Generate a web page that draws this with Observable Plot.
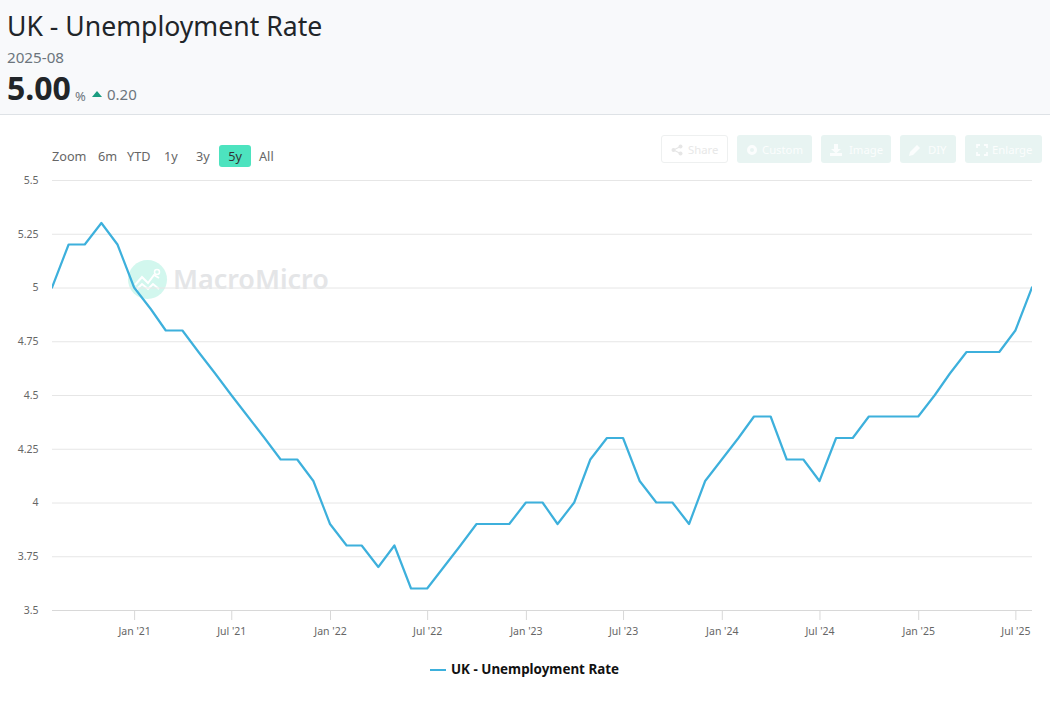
<!DOCTYPE html>
<html>
<head>
<meta charset="utf-8">
<script src="https://cdn.jsdelivr.net/npm/d3@7"></script>
<script src="https://cdn.jsdelivr.net/npm/@observablehq/plot@0.6"></script>
<style>
  html, body { margin: 0; padding: 0; background: #fff; }
  body { width: 1050px; height: 727px; position: relative; overflow: hidden; font-family: "Noto Sans", sans-serif; }
  .abs { position: absolute; white-space: nowrap; }
  #head { left: 0; top: 0; width: 1050px; height: 114px; background: #f8f9fb; border-bottom: 1px solid #dee2e6; }
  #title { left: 7px; top: 8px; font-size: 26.6px; line-height: 36px; color: #212529; }
  #date { left: 7px; top: 47px; font-size: 15.2px; line-height: 21px; color: #6c757d; }
  #val { left: 7px; top: 66px; font-size: 32px; line-height: 44px; font-weight: 700; color: #212529; }
  #unit { left: 75px; top: 87px; font-size: 13px; line-height: 18px; color: #6c757d; }
  #delta { left: 107px; top: 84px; font-size: 15px; line-height: 21px; color: #6c757d; }
  #tri { left: 92px; top: 91px; width: 0; height: 0; border-left: 5.5px solid transparent; border-right: 5.5px solid transparent; border-bottom: 6px solid #1a9c80; }
  .rng { top: 147px; font-size: 12.7px; line-height: 18px; color: #666; }
  #r5 { left: 219px; top: 145px; width: 32px; height: 22px; background: #4de3bf; border-radius: 3px; text-align: center; font-size: 12.7px; line-height: 22px; color: #333; }
  .btn { top: 135px; height: 28px; border-radius: 3px; background: #e8f4f2; color: #fbfdfd; font-size: 11.3px; line-height: 30px; box-sizing: border-box; padding-left: 25px; }
  .btn svg { position: absolute; left: 9px; top: 9px; width: 12px; height: 12px; }
  #share { background: #fff; border: 1px solid #eef0f0; color: #e8e8e8; line-height: 28px; padding-left: 26px; }
  #mark { left: 128px; top: 260px; width: 39px; height: 39px; border-radius: 50%; background: #d2f7ee; }
  #mtext { left: 173px; top: 261px; font-size: 26.9px; line-height: 36px; font-weight: 600; color: #e4e5e7; }
  #chart { left: 0; top: 130px; }
  #legline { left: 430px; top: 669px; width: 16px; height: 2px; background: #3db0dc; }
  #leg { left: 451px; top: 660px; font-size: 13.4px; line-height: 18px; font-weight: 700; color: #111; }
</style>
</head>
<body>
<div class="abs" id="head"></div>
<div class="abs" id="title">UK - Unemployment Rate</div>
<div class="abs" id="date">2025-08</div>
<div class="abs" id="val">5.00</div>
<div class="abs" id="unit">%</div>
<div class="abs" id="tri"></div>
<div class="abs" id="delta">0.20</div>

<div class="abs rng" style="left:52px">Zoom</div>
<div class="abs rng" style="left:98px">6m</div>
<div class="abs rng" style="left:127px">YTD</div>
<div class="abs rng" style="left:164px">1y</div>
<div class="abs rng" style="left:196px">3y</div>
<div class="abs" id="r5">5y</div>
<div class="abs rng" style="left:259px">All</div>

<div class="abs btn" id="share" style="left:661px;width:67px"><svg viewBox="0 0 12 12" style="top:8px"><circle cx="2.5" cy="6" r="2" fill="#e6e6e6"/><circle cx="9.5" cy="2.5" r="2" fill="#e6e6e6"/><circle cx="9.5" cy="9.5" r="2" fill="#e6e6e6"/><path d="M2.5 6L9.5 2.5M2.5 6L9.5 9.5" stroke="#e6e6e6" stroke-width="1.2"/></svg>Share</div>
<div class="abs btn" style="left:737px;width:75px"><svg viewBox="0 0 12 12"><circle cx="6" cy="6" r="3.5" fill="none" stroke="#fbfdfd" stroke-width="3"/></svg>Custom</div>
<div class="abs btn" style="left:821px;width:70px;padding-left:28px"><svg viewBox="0 0 12 12"><path d="M4 0h4v5h3L6 9.5 1 5h3zM0 9h12v3H0z" fill="#fbfdfd"/></svg>Image</div>
<div class="abs btn" style="left:900px;width:56px;padding-left:28px"><svg viewBox="0 0 12 12"><path d="M0 12l1-4 7-7 3 3-7 7z" fill="#fbfdfd"/></svg>DIY</div>
<div class="abs btn" style="left:965px;width:77px;padding-left:27px"><svg viewBox="0 0 12 12" style="left:11px"><path d="M1 4V1h3M8 1h3v3M11 8v3H8M4 11H1V8" fill="none" stroke="#fbfdfd" stroke-width="1.8"/></svg>Enlarge</div>

<div class="abs" id="mark"><svg viewBox="0 0 39 39" width="39" height="39"><path d="M7 25l7-8 6 6 6-8 5 3M8 30l6-6 6 5 5-5 6 5" fill="none" stroke="#fff" stroke-width="2"/><circle cx="29" cy="12" r="2.5" fill="none" stroke="#fff" stroke-width="1.5"/></svg></div>
<div class="abs" id="mtext">MacroMicro</div>

<div class="abs" id="chart"></div>
<div class="abs" id="legline"></div>
<div class="abs" id="leg">UK - Unemployment Rate</div>

<script>
const months = [
  "2020-08","2020-09","2020-10","2020-11","2020-12",
  "2021-01","2021-02","2021-03","2021-04","2021-05","2021-06","2021-07","2021-08","2021-09","2021-10","2021-11","2021-12",
  "2022-01","2022-02","2022-03","2022-04","2022-05","2022-06","2022-07","2022-08","2022-09","2022-10","2022-11","2022-12",
  "2023-01","2023-02","2023-03","2023-04","2023-05","2023-06","2023-07","2023-08","2023-09","2023-10","2023-11","2023-12",
  "2024-01","2024-02","2024-03","2024-04","2024-05","2024-06","2024-07","2024-08","2024-09","2024-10","2024-11","2024-12",
  "2025-01","2025-02","2025-03","2025-04","2025-05","2025-06","2025-07","2025-08"
];
const rates = [
  5.0,5.2,5.2,5.3,5.2,
  5.0,4.9,4.8,4.8,4.7,4.6,4.5,4.4,4.3,4.2,4.2,4.1,
  3.9,3.8,3.8,3.7,3.8,3.6,3.6,3.7,3.8,3.9,3.9,3.9,
  4.0,4.0,3.9,4.0,4.2,4.3,4.3,4.1,4.0,4.0,3.9,4.1,
  4.2,4.3,4.4,4.4,4.2,4.2,4.1,4.3,4.3,4.4,4.4,4.4,
  4.4,4.5,4.6,4.7,4.7,4.7,4.8,5.0
];
const yTicks = [3.5,3.75,4,4.25,4.5,4.75,5,5.25,5.5];
const xTicks = ["2021-01","2021-07","2022-01","2022-07","2023-01","2023-07","2024-01","2024-07","2025-01","2025-07"];

const parse = d3.utcParse("%Y-%m");
const data = months.map((m, i) => ({date: parse(m), rate: rates[i]}));
const monthName = d3.utcFormat("%b '%y");

const plot = Plot.plot({
  width: 1050,
  height: 530,
  marginLeft: 52,
  marginRight: 18,
  marginTop: 50,
  marginBottom: 50,
  clip: true,
  style: {background: "transparent", fontFamily: '"Noto Sans", sans-serif', fontSize: "10.5px", overflow: "visible"},
  x: {type: "utc", domain: [parse(months[0]), parse(months[months.length - 1])]},
  y: {domain: [3.5, 5.5]},
  marks: [
    Plot.ruleY(yTicks.slice(1), {stroke: "#e6e6e6", strokeWidth: 1, strokeOpacity: 1, clip: false}),
    Plot.ruleY([3.5], {stroke: "#d8d8d8", strokeWidth: 1, strokeOpacity: 1, clip: false}),
    Plot.axisY({ticks: yTicks, tickSize: 0, tickPadding: 14, tickFormat: d => String(d), label: null, fill: "#666", clip: false}),
    Plot.axisX({ticks: xTicks.map(parse), tickSize: 10, tickPadding: 7, tickFormat: monthName, label: null, stroke: "#d8d8d8", strokeOpacity: 1, fill: "#666", fontSize: 10.5, clip: false}),
    Plot.line(data, {x: "date", y: "rate", stroke: "#3db0dc", strokeWidth: 2.2, curve: "linear", dy: -0.5, dx: -0.5})
  ]
});
document.getElementById("chart").appendChild(plot);
</script>
</body>
</html>
